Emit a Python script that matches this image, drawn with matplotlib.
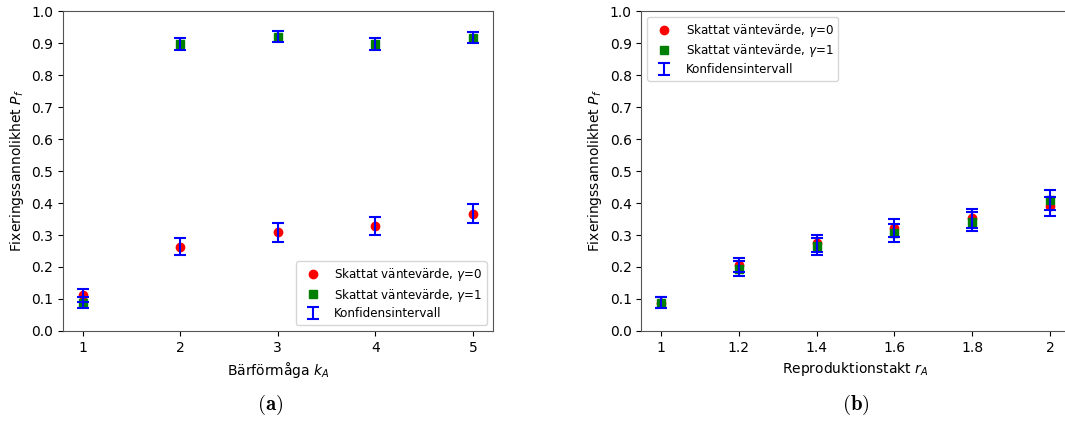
import matplotlib
matplotlib.use("Agg")
import matplotlib.pyplot as plt
import numpy as np

# (a) carrying capacity k_A
k_vals = [1, 2, 3, 4, 5]
k_p0 = [0.112, 0.264, 0.308, 0.328, 0.367]
k_lo0 = [0.092, 0.237, 0.279, 0.299, 0.337]
k_hi0 = [0.132, 0.292, 0.337, 0.357, 0.397]
k_p1 = [0.088, 0.898, 0.920, 0.898, 0.917]
k_lo1 = [0.071, 0.879, 0.903, 0.879, 0.900]
k_hi1 = [0.106, 0.917, 0.937, 0.917, 0.934]

# (b) reproduction rate r_A
r_vals = [1.0, 1.2, 1.4, 1.6, 1.8, 2.0]
r_ticklabels = ["1", "1.2", "1.4", "1.6", "1.8", "2"]
r_p0 = [0.089, 0.206, 0.276, 0.322, 0.352, 0.390]
r_lo0 = [0.071, 0.183, 0.248, 0.294, 0.323, 0.360]
r_hi0 = [0.107, 0.229, 0.300, 0.351, 0.381, 0.420]
r_p1 = [0.088, 0.195, 0.265, 0.307, 0.341, 0.410]
r_lo1 = [0.071, 0.171, 0.239, 0.278, 0.312, 0.379]
r_hi1 = [0.106, 0.218, 0.291, 0.335, 0.371, 0.440]

y_ticks = [round(0.1 * i, 1) for i in range(11)]

plt.rcParams["legend.fontsize"] = 8.6
plt.rcParams["legend.labelspacing"] = 0.3

fig = plt.figure(figsize=(10.65, 4.21), dpi=100)
ax_a = fig.add_axes([0.0592, 0.2138, 0.4033, 0.760])
ax_b = fig.add_axes([0.6023, 0.2138, 0.4019, 0.760])


def draw(ax, x, p0, lo0, hi0, p1, lo1, hi1):
    x = np.asarray(x)
    p0, lo0, hi0 = map(np.asarray, (p0, lo0, hi0))
    p1, lo1, hi1 = map(np.asarray, (p1, lo1, hi1))
    ax.plot(x, p0, "o", color="red", markersize=6,
            label=r"Skattat väntevärde, $\gamma$=0")
    ax.plot(x, p1, "s", color="green", markersize=6,
            label=r"Skattat väntevärde, $\gamma$=1")
    ax.errorbar(x, p0, yerr=[p0 - lo0, hi0 - p0], fmt="none", ecolor="blue",
                elinewidth=1.5, capsize=4.5, capthick=1.5,
                label="Konfidensintervall", zorder=3)
    ax.errorbar(x, p1, yerr=[p1 - lo1, hi1 - p1], fmt="none", ecolor="blue",
                elinewidth=1.5, capsize=4.5, capthick=1.5, zorder=3)
    ax.set_ylim(0, 1)
    ax.set_yticks(y_ticks)
    ax.set_ylabel(r"Fixeringssannolikhet $P_f$")
    for s in ax.spines.values():
        s.set_color("#555555")


draw(ax_a, k_vals, k_p0, k_lo0, k_hi0, k_p1, k_lo1, k_hi1)
ax_a.set_xticks(k_vals)
ax_a.set_xlabel(r"Bärförmåga $k_A$")
ax_a.legend(loc="lower right")

draw(ax_b, r_vals, r_p0, r_lo0, r_hi0, r_p1, r_lo1, r_hi1)
ax_b.set_xticks(r_vals)
ax_b.set_xticklabels(r_ticklabels)
ax_b.set_xlabel(r"Reproduktionstakt $r_A$")
ax_b.legend(loc="upper left")

fig.text(0.2535, 0.038, r"$\mathbf{(a)}$", ha="center", va="center",
         fontsize=15, math_fontfamily="cm")
fig.text(0.8038, 0.038, r"$\mathbf{(b)}$", ha="center", va="center",
         fontsize=15, math_fontfamily="cm")

fig.savefig("out.png", dpi=100)
